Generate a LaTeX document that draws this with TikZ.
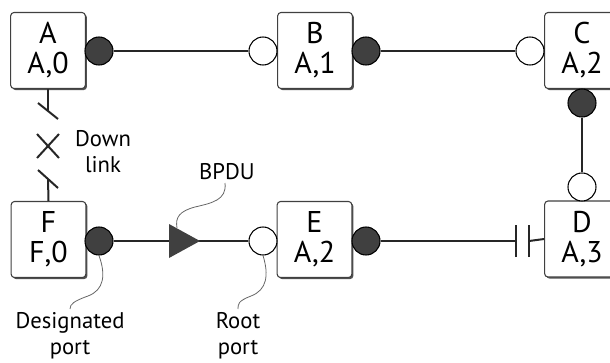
\documentclass[tikz,border=0pt]{standalone}
\usepackage{fontspec}
\setmainfont{PT Sans}
\usetikzlibrary{shadows}
\begin{document}
\begin{tikzpicture}[x=0.75pt,y=-0.75pt,
 box/.style={draw=black!75, line width=0.8pt, fill=white, rounded corners=2.5pt,
   minimum width=56pt, minimum height=57pt, inner sep=0pt, align=center,
   font=\fontsize{22.5}{22.5}\selectfont,
   drop shadow={shadow xshift=1.2pt, shadow yshift=-1.2pt, opacity=0.85, fill=black!80}},
 dport/.style={circle, draw=black, line width=0.8pt, fill=black!75, minimum size=21pt, inner sep=0pt},
 rport/.style={circle, draw=black, line width=0.8pt, fill=white, minimum size=21pt, inner sep=0pt},
 link/.style={line width=1.5pt, black!85},
 note/.style={draw=black!60, line width=0.6pt},
 lbl/.style={align=center, inner sep=0pt, font=\fontsize{17}{19.5}\selectfont}]
\useasboundingbox (0,0) rectangle (610,362);

% boxes
\node[box] (A) at (48,50.5) {A\\A,0};
\node[box] (B) at (315,50.5) {B\\A,1};
\node[box] (C) at (582,50.5) {C\\A,2};
\node[box] (D) at (582,239) {D\\A,3};
\node[box] (E) at (314.5,239.5) {E\\A,2};
\node[box] (F) at (48.5,239.5) {F\\F,0};

% ports
\node[dport] (a1) at (99,51) {};
\node[rport] (b0) at (263,51) {};
\node[dport] (b1) at (366,51) {};
\node[rport] (c0) at (530,51) {};
\node[dport] (c1) at (582,103) {};
\node[rport] (d0) at (582,187) {};
\node[dport] (f1) at (99,241) {};
\node[rport] (e0) at (263,241) {};
\node[dport] (e1) at (366,241) {};

% links
\draw[link] (a1) -- (b0);
\draw[link] (b1) -- (c0);
\draw[link] (c1) -- (d0);
\draw[link] (f1) -- (e0);
\coordinate (bar1) at (516,241);
\coordinate (bar2) at (529,241);
\draw[link] (e1) -- (bar1);
\draw[link] (bar2) -- (D.west);
\draw[link] ([yshift=-12pt]bar1) -- ([yshift=12pt]bar1);
\draw[link] ([yshift=-12pt]bar2) -- ([yshift=12pt]bar2);

% BPDU triangle
\coordinate (tip) at (200,241);
\fill[black!75] (tip) -- (169,224) -- (169,258) -- cycle;

% down link
\coordinate (s1) at (48,111);
\coordinate (s2) at (48,179);
\draw[link] (A.south) -- (s1);
\draw[link] (38,103) -- (58,119);
\draw[link] (37,134) -- (59,158);
\draw[link] (59,134) -- (37,158);
\draw[link] (38,170) -- (58,188);
\draw[link] (s2) -- (F.north);

% labels
\node[lbl] (dl) at (103,152) {Down\\link};
\node[lbl] (bp) at (227,172) {BPDU};
\node[lbl] (dp) at (70,336) {Designated\\port};
\node[lbl] (rp) at (238,336) {Root\\port};

% callout curves
\draw[note] (225,183) .. controls (227,200) and (212,203) .. (195,207)
   .. controls (180,211) and (175,217) .. (177,228);
\draw[note] (f1.south) .. controls (106,275) and (104,290) .. (88,296)
   .. controls (74,301) and (70,304) .. (70,309);
\draw[note] (e0.south) .. controls (269,275) and (267,290) .. (251,296)
   .. controls (238,301) and (238,304) .. (238,309);
\end{tikzpicture}
\end{document}
